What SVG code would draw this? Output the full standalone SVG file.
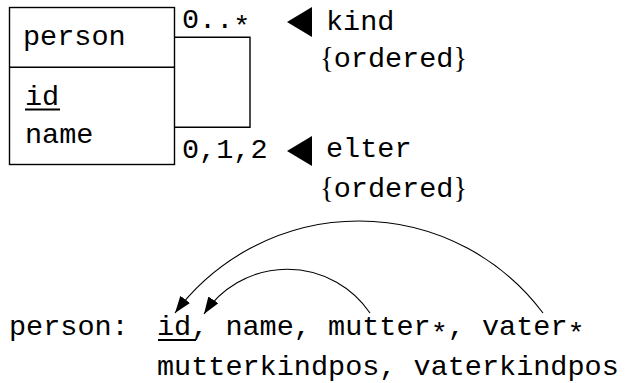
<svg xmlns="http://www.w3.org/2000/svg" width="625" height="383" viewBox="0 0 625 383">
  <style>
    text { font-family: "Liberation Mono", "DejaVu Sans Mono", monospace; font-size: 28.5px; fill: #000; }
    .brace { font-family: "Liberation Serif", "DejaVu Serif", serif; }
    .box { fill: #fff; stroke: #000; stroke-width: 1.4; }
    .line { fill: none; stroke: #000; stroke-width: 1.4; }
    .arc { fill: none; stroke: #000; stroke-width: 1.1; }
    .ul { stroke: #000; stroke-width: 2; }
    .tri { fill: #000; }
  </style>
  <defs>
    <marker id="arrow" markerUnits="userSpaceOnUse" markerWidth="18" markerHeight="12" refX="17" refY="6" orient="auto">
      <path d="M0,0 L17,6 L0,12 z" fill="#000"/>
    </marker>
  </defs>

  <g id="person-class">
    <rect class="box" x="9.5" y="7.5" width="165" height="157"/>
    <line class="line" x1="9.5" y1="67.3" x2="174.5" y2="67.3"/>
    <text x="23" y="45">person</text>
    <text x="25" y="105">id</text>
    <line class="ul" x1="25" y1="109.5" x2="60" y2="109.5"/>
    <text x="25" y="143">name</text>
  </g>

  <g id="connectors">
    <polyline id="self-association" class="line" points="174.5,37.3 250,37.3 250,127.3 174.5,127.3"/>
    <path id="vater-ref" class="arc" d="M543,313 A 230 230 0 0 0 175,313" marker-end="url(#arrow)"/>
    <path id="mutter-ref" class="arc" d="M370,313 A 100 100 0 0 0 204,314" marker-end="url(#arrow)"/>
  </g>

  <g id="role-kind">
    <text x="182" y="28">0..<tspan dy="7">*</tspan></text>
    <polygon class="tri" points="287,22 312,7 312,37"/>
    <text x="326" y="30">kind</text>
    <text x="320" y="67"><tspan class="brace">{</tspan>ordered<tspan class="brace">}</tspan></text>
  </g>

  <g id="role-elter">
    <text x="182" y="158">0,1,2</text>
    <polygon class="tri" points="287,151 312,136 312,166"/>
    <text x="326" y="157">elter</text>
    <text x="320" y="197"><tspan class="brace">{</tspan>ordered<tspan class="brace">}</tspan></text>
  </g>

  <g id="person-relation">
    <text x="9" y="335">person:</text>
    <text x="157" y="335">id, name, mutter<tspan dy="7">*</tspan><tspan dy="-7">, vater</tspan><tspan dy="7">*</tspan></text>
    <line class="ul" x1="158" y1="340" x2="196" y2="340"/>
    <text x="157" y="375">mutterkindpos, vaterkindpos</text>
  </g>
</svg>
